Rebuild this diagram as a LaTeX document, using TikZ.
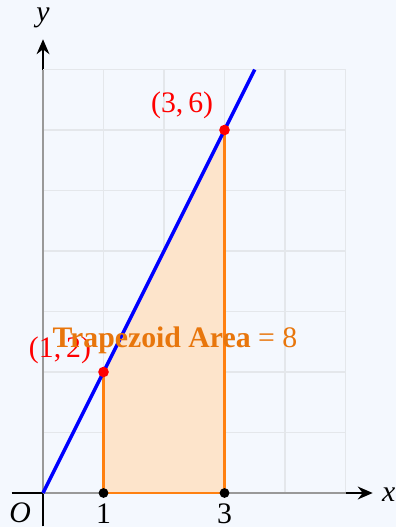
\documentclass[tikz,border=0pt]{standalone}
\usepackage{fontspec}
\setmainfont{Liberation Serif}
\usetikzlibrary{arrows.meta}
\definecolor{bgc}{HTML}{F4F8FE}
\definecolor{gridc}{HTML}{E4E7EB}
\definecolor{fillc}{HTML}{FDE4CB}
\definecolor{edgec}{HTML}{FF8010}
\definecolor{txtc}{HTML}{E8760C}
\tikzset{
  axis/.style={line width=1pt,-{Stealth[length=7pt,width=6pt]}},
  gridline/.style={gridc,line width=0.6pt},
  reddot/.style={circle,fill=red,inner sep=0pt,minimum size=5pt},
  blackdot/.style={circle,fill=black,inner sep=0pt,minimum size=4.6pt},
  ptlabel/.style={red,font=\fontsize{14}{16}\selectfont},
  ticklabel/.style={font=\fontsize{14}{16}\selectfont},
}
\begin{document}
\begin{tikzpicture}
\fill[bgc] (-0.711,-0.562) rectangle (5.835,8.149);
\useasboundingbox (-0.711,-0.562) rectangle (5.835,8.149);
% axes
\coordinate (xs) at (-0.52,0);
\coordinate (xe) at (5.45,0);
\coordinate (ys) at (0,-0.55);
\coordinate (ye) at (0,7.5);
\draw[axis] (xs) -- (xe);
\draw[axis] (ys) -- (ye);
% grid
\draw[gridline] (0,0) grid (5,7);
\draw[gray!80,line width=1pt] (0,0) -- (5,0);
\draw[gray!80,line width=1pt] (0,0) -- (0,7);
% trapezoid
\coordinate (A) at (1,0);
\coordinate (B) at (3,0);
\coordinate (C) at (3,6);
\coordinate (D) at (1,2);
\fill[fillc] (A) -- (B) -- (C) -- (D) -- cycle;
\draw[edgec,line width=1pt] (D) -- (A) -- (B) -- (C);
% line y=2x
\coordinate (L0) at (0,0);
\coordinate (L1) at (3.5,7);
\draw[blue,line width=1.6pt] (L0) -- (L1);
% points
\node[blackdot] (pa) at (A) {};
\node[blackdot] (pb) at (B) {};
\node[reddot] (pd) at (D) {};
\node[reddot] (pc) at (C) {};
% labels
\node[ptlabel] (ld) at (0.28,2.36) {(1,\,2)};
\node[ptlabel] (lc) at (2.30,6.41) {(3,\,6)};
\node[font=\fontsize{14}{16}\selectfont,txtc] (area) at (2.18,2.53) {\textbf{Trapezoid Area} = 8};
\node[ticklabel] (t1) at (1,-0.34) {1};
\node[ticklabel] (t3) at (3,-0.34) {3};
\node[ticklabel] (o) at (-0.38,-0.32) {\itshape O};
\node[ticklabel,anchor=west] (xl) at (5.48,-0.02) {\itshape x};
\node[ticklabel] (yl) at (0,7.85) {\itshape y};
\end{tikzpicture}
\end{document}
